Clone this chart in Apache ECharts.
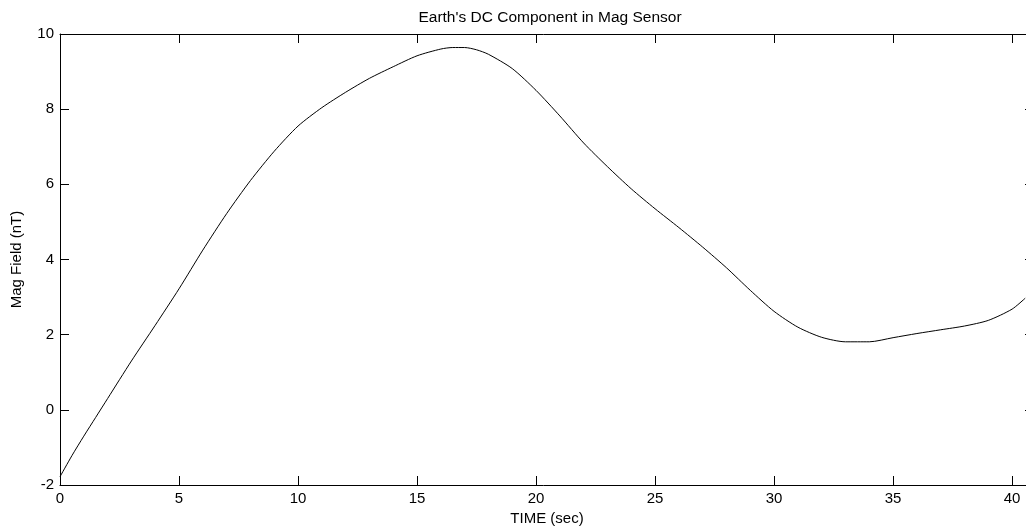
<!DOCTYPE html>
<html>
<head>
<meta charset="utf-8">
<script src="https://cdn.jsdelivr.net/npm/echarts@6/dist/echarts.min.js"></script>
<style>html,body{margin:0;padding:0;background:#fff}#c{width:1026px;height:527px}</style>
</head>
<body>
<div id="c"></div>
<script>
const titleText = "Earth's DC Component in Mag Sensor";
const xName = "TIME (sec)";
const yName = "Mag Field (nT)";
const timeSec = [0, 0.5, 1, 1.5, 2, 3, 4, 5, 6, 7, 8, 9, 10, 11, 12, 13, 14, 15, 16, 16.5, 17, 17.5, 18, 19, 20, 21, 22, 23, 24, 25, 26, 27, 28, 29, 30, 31, 32, 33, 34, 35, 36, 37, 38, 39, 40, 40.55];
const magField = [-1.78, -1.22, -0.7, -0.2, 0.3, 1.3, 2.25, 3.22, 4.25, 5.22, 6.1, 6.88, 7.55, 8.04, 8.45, 8.82, 9.13, 9.42, 9.6, 9.64, 9.64, 9.58, 9.46, 9.08, 8.5, 7.82, 7.1, 6.47, 5.88, 5.35, 4.85, 4.33, 3.78, 3.18, 2.62, 2.2, 1.93, 1.81, 1.81, 1.92, 2.03, 2.13, 2.23, 2.38, 2.68, 2.97];
const xMin = 0, xMax = 40.92, xStep = 5;
const yMin = -2, yMax = 10, yStep = 2;

const points = timeSec.map((t, i) => [t, magField[i]]);
const font = 'Liberation Sans, Arial, sans-serif';
const black = '#000';
const tickStyle = { show: true, inside: true, length: 9, lineStyle: { color: black, width: 1 } };
const lineStyleAx = { show: true, onZero: false, lineStyle: { color: black, width: 1 } };

const chart = echarts.init(document.getElementById('c'), null, { renderer: 'canvas' });
chart.setOption({
  animation: false,
  backgroundColor: '#fff',
  title: {
    text: titleText, left: 545, top: 5, textAlign: 'center',
    textStyle: { fontFamily: font, fontSize: 15.5, fontWeight: 'normal', color: black }
  },
  grid: { left: 60, right: -8, top: 34, bottom: 42, containLabel: false, outerBoundsMode: 'none' },
  xAxis: [{
    type: 'value', min: xMin, max: xMax, interval: xStep, position: 'bottom',
    name: xName, nameLocation: 'middle', nameGap: 20,
    nameTextStyle: { fontFamily: font, fontSize: 15, color: black },
    axisLine: lineStyleAx, axisTick: tickStyle, splitLine: { show: false },
    axisLabel: {
      margin: 6, fontFamily: font, fontSize: 15, color: black, showMaxLabel: false,
      formatter: v => (Math.abs(v % xStep) < 1e-9 ? String(v) : '')
    }
  }, {
    type: 'value', min: xMin, max: xMax, interval: xStep, position: 'top',
    axisLine: lineStyleAx, axisTick: tickStyle, splitLine: { show: false },
    axisLabel: { show: false }
  }],
  yAxis: [{
    type: 'value', min: yMin, max: yMax, interval: yStep, position: 'left',
    name: yName, nameLocation: 'middle', nameGap: 36, nameRotate: 90,
    nameTextStyle: { fontFamily: font, fontSize: 15, color: black },
    axisLine: lineStyleAx, axisTick: tickStyle, splitLine: { show: false },
    axisLabel: { margin: 6, fontFamily: font, fontSize: 15, color: black }
  }, {
    type: 'value', min: yMin, max: yMax, interval: yStep, position: 'right',
    axisLine: lineStyleAx, axisTick: tickStyle, splitLine: { show: false },
    axisLabel: { show: false }
  }],
  series: [{
    type: 'line', data: points, xAxisIndex: 0, yAxisIndex: 0,
    showSymbol: false, smooth: 0.25,
    lineStyle: { color: black, width: 1 }
  }]
});
</script>
</body>
</html>
